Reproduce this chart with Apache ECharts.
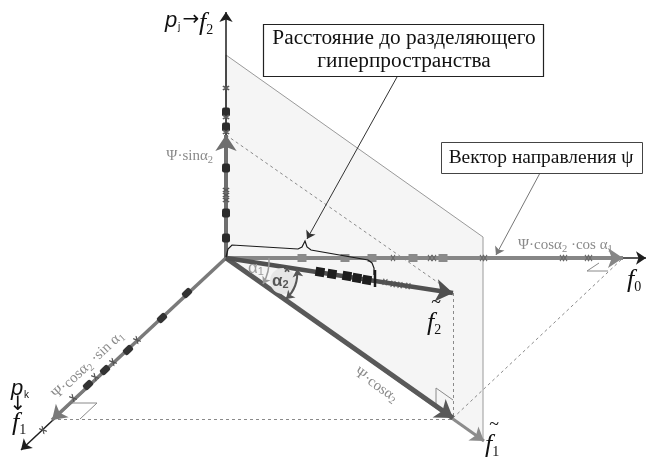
<!DOCTYPE html>
<html>
<head>
<meta charset="utf-8">
<script src="https://cdn.jsdelivr.net/npm/echarts@6/dist/echarts.min.js"></script>
<style>
  html, body { margin: 0; padding: 0; background: #fff; }
  #chart { width: 647px; height: 458px; }
</style>
</head>
<body>
<div id="chart"></div>
<script>
// Scheme coordinates: x to the right, y downward, one unit per pixel of the plot area.
const origin = [226, 258];

// axis tips (thin black axes)
const axisF0 = [646, 258];
const axisF1 = [21, 450];
const axisF2 = [226, 12];
const axisF1t = [484, 441];

// vector tips
const vecCosCos = [623, 258];   // Ψ·cosα2·cosα1
const vecCosSin = [52, 420];    // Ψ·cosα2·sinα1
const vecSin = [226, 135];      // Ψ·sinα2
const vecF2t = [453, 293];      // f̃2
const vecCos = [453, 418];      // Ψ·cosα2

// separating hyperplane
const planeCorners = [[226, 55], [483, 237], [483, 441], [226, 258]];

// projection helper lines
const dashedSegments = [
  [[226, 135], [453, 293]],
  [[453, 293], [453, 418]],
  [[52, 419], [453, 419]],
  [[453, 418], [623, 258]]
];
const rightAngleMarks = [
  [[72, 403], [97, 403], [80, 419]],
  [[436, 405], [436, 388], [453, 400]],
  [[599, 263], [587, 271], [608, 271]]
];

// brace spanning the distance to the hyperplane
const bracePoints = [[226, 257], [228, 249], [232, 245], [298, 249], [302, 247], [305, 241],
  [307, 247], [311, 250], [368, 260], [372, 263], [374, 268], [374, 275]];

// sample points along the axes
const upSquares = [[226, 112], [226, 127], [226, 168], [226, 213], [226, 238]];
const upCrosses = [[226, 88], [226, 117], [226, 132], [226, 190], [226, 195], [226, 200]];
const horizSquares = [[302, 258], [345, 258], [372, 258], [413, 258], [443, 258]];
const horizCrosses = [[393, 258], [430, 258], [434, 258], [482, 258], [485, 258],
  [562, 258], [565, 258], [587, 258], [590, 258]];
const f2tSquares = [[320, 272], [332, 274], [347, 276], [357, 278], [367, 280]];
const f2tCrosses = [[385, 282], [393, 284], [400, 285], [408, 286]];
const leftOvals = [[187, 293], [162, 318], [128, 350], [105, 370], [88, 385]];
const leftCrosses = [[137, 340], [113, 362], [95, 377], [73, 398], [43, 430]];

const SERIF = '"Liberation Serif", "Times New Roman", serif';
const SANS = '"Liberation Sans", Arial, sans-serif';
const ARROWS = '"DejaVu Sans", sans-serif';
const CROSS = 'path://M0,0L10,10M10,0L0,10';

function seg(a, b) { return { coords: [a, b] }; }

function arrowLines(data, color, width, size, z) {
  return {
    type: 'lines', coordinateSystem: 'cartesian2d', z: z,
    symbol: ['none', 'arrow'], symbolSize: size,
    lineStyle: { color: color, width: width, opacity: 1 },
    data: data, silent: true
  };
}

function markers(data, symbol, size, rotate, fill, stroke, sw, z) {
  return {
    type: 'scatter', z: z, symbol: symbol, symbolSize: size, symbolRotate: rotate,
    itemStyle: { color: fill, borderColor: stroke, borderWidth: sw, opacity: 1 },
    data: data, silent: true
  };
}

const series = [
  {
    type: 'custom', z: 1, silent: true,
    data: [origin],
    renderItem: function (params, api) {
      return {
        type: 'polygon',
        shape: { points: planeCorners.map(p => api.coord(p)) },
        style: { fill: '#f5f5f5', stroke: '#9a9a9a', lineWidth: 1 }
      };
    }
  },
  {
    type: 'lines', coordinateSystem: 'cartesian2d', z: 2, silent: true,
    lineStyle: { color: '#8a8a8a', width: 1, type: [3, 3], opacity: 1 },
    data: dashedSegments.map(s => ({ coords: s }))
  },
  {
    type: 'lines', coordinateSystem: 'cartesian2d', polyline: true, z: 2, silent: true,
    lineStyle: { color: '#8a8a8a', width: 1, opacity: 1 },
    data: rightAngleMarks.map(s => ({ coords: s }))
  },
  arrowLines([seg(origin, axisF0), seg(origin, axisF1), seg(origin, axisF2)], '#1e1e1e', 1.5, 10, 3),
  arrowLines([seg(origin, axisF1t)], '#8c8c8c', 3, 13, 4),
  arrowLines([seg(origin, vecCosCos)], '#868686', 4, 15, 4),
  arrowLines([seg(origin, vecCosSin)], '#7a7a7a', 3.5, 14, 4),
  arrowLines([seg(origin, vecSin)], '#6e6e6e', 4, 16, 4),
  arrowLines([seg(origin, vecCos)], '#595959', 5, 17, 5),
  arrowLines([seg(origin, vecF2t)], '#505050', 4.5, 17, 5),
  markers(upSquares, 'roundRect', [8, 9], 0, '#2b2b2b', '#2b2b2b', 0, 6),
  markers(upCrosses, CROSS, [6, 4], 0, 'rgba(0,0,0,0)', '#5a5a5a', 1.6, 6),
  markers(horizSquares, 'rect', [9, 8], 0, '#8a8a8a', '#8a8a8a', 0, 6),
  markers(horizCrosses, CROSS, [4, 6], 0, 'rgba(0,0,0,0)', '#6a6a6a', 1.4, 6),
  markers(f2tSquares, 'rect', [9, 9], -9, '#1e1e1e', '#1e1e1e', 0, 6),
  markers(f2tCrosses, CROSS, [4, 6], -9, 'rgba(0,0,0,0)', '#555', 1.3, 6),
  markers(leftOvals, 'roundRect', [10, 7], 43, '#333', '#333', 0, 6),
  markers(leftCrosses, CROSS, [4, 7], 43, 'rgba(0,0,0,0)', '#555', 1.3, 6),
  {
    type: 'lines', coordinateSystem: 'cartesian2d', polyline: true, z: 7, silent: true,
    lineStyle: { color: '#1a1a1a', width: 1.2, opacity: 1 },
    data: [{ coords: bracePoints }]
  },
  {
    type: 'lines', coordinateSystem: 'cartesian2d', polyline: true, z: 7, silent: true,
    lineStyle: { color: '#1a1a1a', width: 2.5, opacity: 1 },
    data: [{ coords: [[375, 270], [375, 287]] }]
  },
  arrowLines([seg([397, 77], [307, 239])], '#333', 1, 8, 7),
  arrowLines([seg([540, 173], [496, 255])], '#777', 1, 8, 7),
  {
    type: 'scatter', z: 6, silent: true, symbol: 'circle', symbolSize: 26,
    itemStyle: { color: '#e6e6e6', opacity: 1 }, data: [[283, 281]]
  },
  {
    type: 'lines', coordinateSystem: 'cartesian2d', z: 7, silent: true,
    symbol: ['none', 'arrow'], symbolSize: 7,
    lineStyle: { color: '#9a9a9a', width: 1.5, curveness: 0.15, opacity: 1 },
    data: [{ coords: [[269, 258], [263, 284]] }]
  },
  {
    type: 'lines', coordinateSystem: 'cartesian2d', z: 7, silent: true,
    symbol: ['arrow', 'arrow'], symbolSize: 8,
    lineStyle: { color: '#555', width: 2, curveness: 0.25, opacity: 1 },
    data: [{ coords: [[297, 269], [286, 299]] }]
  }
];

// --- text ---
function txt(x, y, text, rich, align, rotation, scaleX) {
  return {
    type: 'text', x: x, y: y, rotation: rotation || 0, scaleX: scaleX || 1, z: 100,
    style: {
      text: text, rich: rich, x: 0, y: 0,
      align: align || 'left', verticalAlign: 'middle',
      textAlign: align || 'left', textVerticalAlign: 'middle'
    }
  };
}

const grayRich = {
  m: { fontFamily: SERIF, fontSize: 15, fill: '#8a8a8a', lineHeight: 19, verticalAlign: 'middle' },
  s: { fontFamily: SERIF, fontSize: 10.5, fill: '#8a8a8a', lineHeight: 10, verticalAlign: 'bottom' }
};
const axisRich = {
  f: { fontFamily: SERIF, fontSize: 26, fontStyle: 'italic', fill: '#111', lineHeight: 28, verticalAlign: 'middle' },
  s: { fontFamily: SERIF, fontSize: 14, fill: '#111', lineHeight: 14, verticalAlign: 'bottom' }
};
const pRich = {
  p: { fontFamily: SANS, fontSize: 22, fontStyle: 'italic', fill: '#111' },
  s: { fontFamily: SANS, fontSize: 10, fill: '#111' },
  a: { fontFamily: ARROWS, fontSize: 20, fill: '#111' }
};
const tilde = { t: { fontFamily: SERIF, fontSize: 18, fill: '#111' } };
const alphaRich = {
  g: { fontFamily: SANS, fontSize: 17, fill: '#9a9a9a', lineHeight: 18, verticalAlign: 'middle' },
  gs: { fontFamily: SANS, fontSize: 11, fill: '#9a9a9a', lineHeight: 11, verticalAlign: 'bottom' },
  b: { fontFamily: SANS, fontSize: 17, fontWeight: 'bold', fill: '#555', lineHeight: 19, verticalAlign: 'middle' },
  bs: { fontFamily: SANS, fontSize: 11, fontWeight: 'bold', fill: '#555', lineHeight: 11, verticalAlign: 'bottom' }
};
const boxRich1 = { a: { fontFamily: SERIF, fontSize: 20.5, fill: '#111' } };
const boxRich2 = { a: { fontFamily: SERIF, fontSize: 18.5, fill: '#111' } };

const graphics = [
  // callout boxes
  { type: 'rect', z: 90, shape: { x: 263.5, y: 24.5, width: 280, height: 52 },
    style: { fill: '#fff', stroke: '#222', lineWidth: 1.2 } },
  txt(404, 39, '{a|Расстояние до разделяющего}', boxRich1, 'center', 0, 1.04),
  txt(404, 62, '{a|гиперпространства}', boxRich1, 'center', 0, 1.04),
  { type: 'rect', z: 90, shape: { x: 441.5, y: 142.5, width: 201, height: 31 },
    style: { fill: '#fff', stroke: '#444', lineWidth: 1 } },
  txt(541, 158, '{a|Вектор направления ψ}', boxRich2, 'center', 0, 1.05),

  // vector labels
  txt(213, 156, '{m|Ψ·sinα}{s|2}', grayRich, 'right'),
  txt(518, 245, '{m|Ψ·cosα}{s|2}{m| ·cos α}{s|1}', grayRich, 'left'),
  txt(376, 385, '{m|Ψ·cosα}{s|2}', grayRich, 'center', -35 * Math.PI / 180),
  txt(88, 365, '{m|Ψ·cosα}{s|2}{m| ·sin α}{s|1}', grayRich, 'center', 43 * Math.PI / 180),

  // angle labels
  txt(248, 268, '{g|α}{gs|1}', alphaRich, 'left'),
  txt(272, 281, '{b|α}{bs|2}', alphaRich, 'left'),
  txt(287, 273, '{b|*}', alphaRich, 'center'),

  // axis labels
  txt(165, 21, '{p|p}', pRich, 'left'),
  txt(178, 27, '{s|j}', pRich, 'left'),
  txt(191, 20, '{a|→}', pRich, 'center'),
  txt(199, 23, '{f|f}{s|2}', axisRich, 'left'),
  txt(11, 389, '{p|p}', pRich, 'left'),
  txt(24, 395, '{s|k}', pRich, 'left'),
  txt(18, 405, '{a|↓}', pRich, 'center'),
  txt(12, 423, '{f|f}{s|1}', axisRich, 'left'),
  txt(627, 280, '{f|f}{s|0}', axisRich, 'left'),
  txt(427, 323, '{f|f}{s|2}', axisRich, 'left'),
  txt(436, 303, '{t|~}', tilde, 'center'),
  txt(485, 445, '{f|f}{s|1}', axisRich, 'left'),
  txt(494, 425, '{t|~}', tilde, 'center')
];

const chart = echarts.init(document.getElementById('chart'), null, { renderer: 'canvas' });
chart.setOption({
  animation: false,
  backgroundColor: '#ffffff',
  grid: { left: 0, right: 0, top: 0, bottom: 0 },
  xAxis: { type: 'value', min: 0, max: 647, show: false },
  yAxis: { type: 'value', min: 0, max: 458, inverse: true, show: false },
  series: series,
  graphic: graphics
});
</script>
</body>
</html>
